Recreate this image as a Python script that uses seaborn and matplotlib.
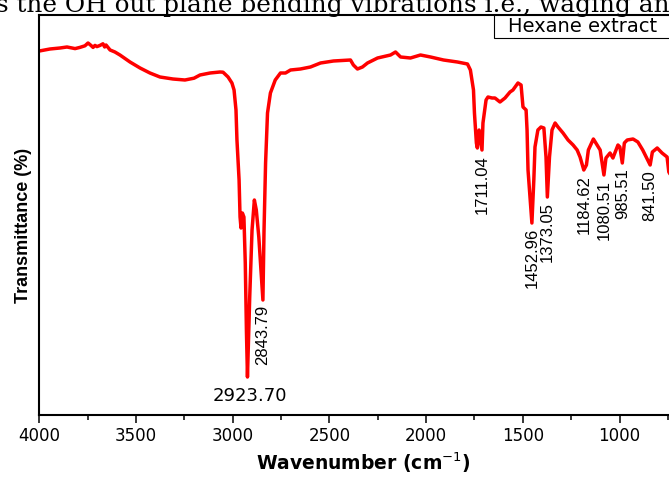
import matplotlib
matplotlib.use("Agg")
import matplotlib.pyplot as plt
import seaborn as sns
import pandas as pd
from matplotlib.ticker import MultipleLocator
from matplotlib.patches import Rectangle
import numpy as np

# ---- data ----
wavenumber = [4000, 3945, 3893, 3857, 3815, 3790, 3764, 3748, 3733, 3722, 3712, 3702,
              3686, 3671, 3662, 3655, 3645, 3634, 3609, 3583, 3531, 3479, 3428, 3376,
              3309, 3247, 3200, 3169, 3117, 3066, 3050, 3024, 3004, 2993, 2983, 2978,
              2967, 2962, 2957, 2950, 2942, 2935, 2929, 2923.70, 2912, 2900, 2888, 2878,
              2865, 2843.79, 2838, 2830, 2820, 2805, 2780, 2753, 2727, 2701, 2650, 2598,
              2546, 2479, 2391, 2376, 2355, 2329, 2303, 2251, 2184, 2158, 2132, 2081,
              2029, 1977, 1910, 1838, 1786, 1771, 1755, 1750, 1740, 1735, 1726, 1711.04,
              1706, 1690, 1680, 1659, 1644, 1618, 1592, 1566, 1551, 1525, 1509, 1499,
              1483, 1478, 1473, 1452.96, 1443, 1437, 1422, 1406, 1391, 1380, 1373.05,
              1362, 1349, 1333, 1318, 1292, 1266, 1240, 1219, 1204, 1184.62, 1171, 1161,
              1135, 1116, 1100, 1080.51, 1070, 1049, 1034, 1008, 998, 985.51, 975, 960,
              930, 905, 880, 841.50, 830, 805, 780, 754, 745, 730, 700]
transmittance = [91.0, 91.5, 91.75, 92.0, 91.6, 91.9, 92.3, 93.0, 92.4, 91.9, 92.4, 92.1,
                 92.4, 92.8, 92.0, 92.5, 91.9, 91.25, 90.75, 90.0, 88.25, 86.75, 85.5, 84.5,
                 84.0, 83.75, 84.2, 85.0, 85.5, 85.75, 85.7, 84.5, 83.0, 81.25, 76.25, 68.75,
                 58.75, 49.5, 46.75, 50.5, 49.5, 38.0, 21.0, 9.5, 29.5, 46.25, 53.75, 51.25,
                 44.5, 28.75, 46.25, 63.0, 75.5, 80.5, 83.75, 85.5, 85.5, 86.25, 86.5, 87.0,
                 88.0, 88.5, 88.75, 87.5, 86.5, 87.0, 88.0, 89.25, 90.0, 90.75, 89.5, 89.25,
                 90.0, 89.5, 88.75, 88.25, 87.75, 86.25, 81.25, 75.5, 68.0, 66.75, 71.25, 66.25,
                 73.0, 78.75, 79.5, 79.25, 79.25, 78.25, 79.25, 80.75, 81.25, 83.0, 82.5, 77.0,
                 76.25, 71.25, 61.25, 48.0, 58.75, 67.0, 71.25, 72.0, 71.75, 64.5, 54.5,
                 64.5, 71.25, 73.0, 72.0, 70.5, 68.75, 67.5, 66.25, 64.5, 61.25, 62.5, 66.25,
                 69.0, 67.5, 66.25, 60.0, 64.25, 65.5, 64.25, 67.5, 67.0, 63.0, 68.0, 68.75,
                 69.0, 68.25, 66.25, 62.5, 65.75, 66.75, 65.5, 64.5, 60.75, 59.5, 62.0]

peak_wn = [2923.70, 2843.79, 1711.04, 1452.96, 1373.05, 1184.62, 1080.51, 985.51, 841.50]
peak_labels = ["2923.70", "2843.79", "1711.04", "1452.96", "1373.05",
               "1184.62", "1080.51", "985.51", "841.50"]

x_ticks = [4000, 3500, 3000, 2500, 2000, 1500, 1000]
series_name = "Hexane extract"
header_text = "s the OH out plane bending vibrations i.e., waging an"

df = pd.DataFrame({"wn": wavenumber, "T": transmittance})

# ---- figure ----
sns.set_theme(style="white")
plt.rcParams["font.family"] = ["DejaVu Sans"]

W, H = 669, 478
fig = plt.figure(figsize=(W / 100, H / 100), dpi=100)
fig.patch.set_facecolor("white")

left_px, bottom_px, top_px = 39.3, 415, 15
x_min, x_max = 4000, 650
px_per_wn = 96.7 / 500
width_px = (x_min - x_max) * px_per_wn
ax = fig.add_axes([left_px / W, (H - bottom_px) / H, width_px / W, (bottom_px - top_px) / H])
ax.set_facecolor("white")

sns.lineplot(data=df, x="wn", y="T", ax=ax, color="#ff0000", linewidth=2.5,
             estimator=None, sort=False, legend=False)

ax.set_xlim(x_min, x_max)
ax.set_ylim(0, 100)
ax.xaxis.set_major_locator(MultipleLocator(500))
ax.xaxis.set_minor_locator(MultipleLocator(250))
ax.set_xticks(x_ticks)
ax.set_xticklabels([str(t) for t in x_ticks], fontsize=12, color="black")
ax.tick_params(axis="x", which="major", direction="out", length=6, width=1.1,
               color="black", pad=2.5, bottom=True)
ax.tick_params(axis="x", which="minor", direction="out", length=3.5, width=1.1,
               color="black", bottom=True)
ax.set_yticks([])
for s in ax.spines.values():
    s.set_visible(True)
    s.set_color("black")
    s.set_linewidth(1.5)

ax.set_xlabel("Wavenumber (cm$^{-1}$)", fontsize=13.5, fontweight="bold",
              color="black", labelpad=4)
ax.set_ylabel("Transmittance (%)", fontsize=13, fontweight="bold", color="black",
              family=["Liberation Sans", "DejaVu Sans"], labelpad=6)
ax.yaxis.set_label_coords(-0.012, 0.475)

# peak annotations
wn_arr = np.array(wavenumber)[::-1]
t_arr = np.array(transmittance)[::-1]
for wn, lab in zip(peak_wn, peak_labels):
    t_min = float(np.interp(wn, wn_arr, t_arr))
    if lab == "2923.70":
        ax.annotate(lab, xy=(wn, t_min), xytext=(1.5, -7), textcoords="offset points",
                    ha="center", va="top", fontsize=13, color="black")
    else:
        ax.annotate(lab, xy=(wn, t_min), xytext=(0, -3.5), textcoords="offset points",
                    ha="center", va="top", rotation=90, fontsize=12, color="black",
                    family=["Liberation Sans", "DejaVu Sans"])

# legend-like box
ax.add_patch(Rectangle((0.702, 0.9425), 0.298, 0.0575, transform=ax.transAxes,
                       facecolor="white", edgecolor="black", linewidth=0.8, zorder=5))
ax.text(0.723, 0.971, series_name, transform=ax.transAxes, ha="left", va="center",
        fontsize=14, color="black", zorder=6)

# cropped document text at the top
fig.text(-0.006, 1 - 12 / H, header_text, ha="left", va="baseline", fontsize=17.8,
         family=["DejaVu Serif"], color="black")

fig.savefig("out.png", dpi=100, facecolor="white")
